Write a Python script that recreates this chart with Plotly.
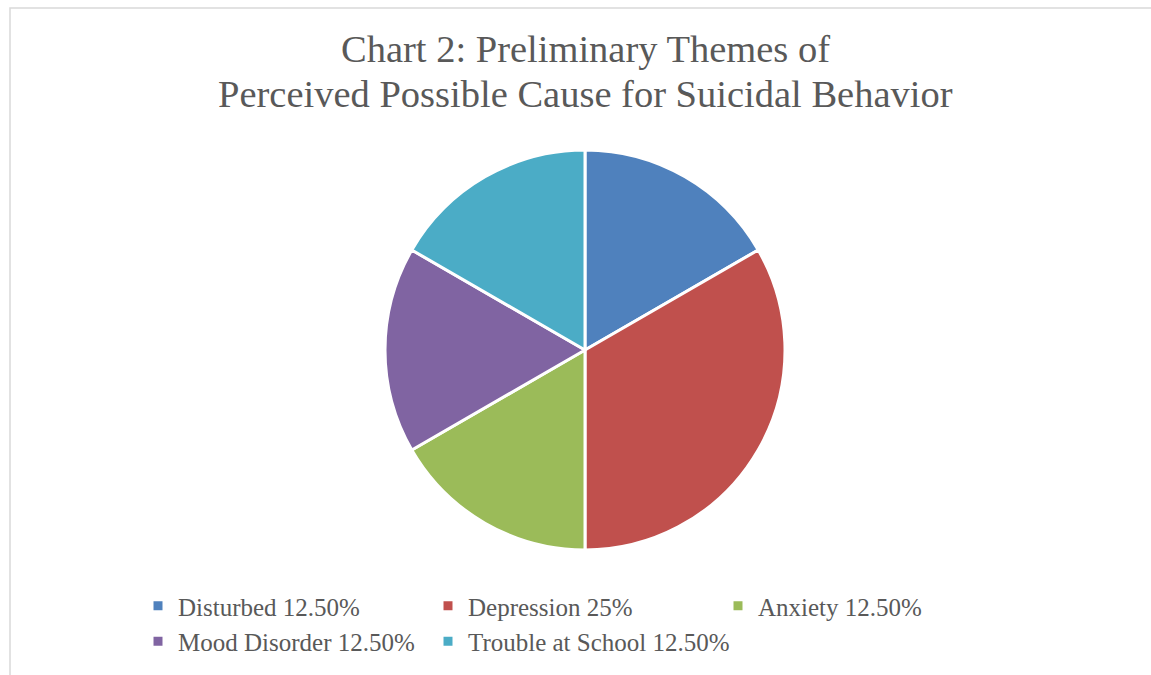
import plotly.graph_objects as go

W, H = 1151, 675
labels = ["Disturbed", "Depression", "Anxiety", "Mood Disorder", "Trouble at School"]
values = [12.5, 25, 12.5, 12.5, 12.5]
pct_text = ["12.50%", "25%", "12.50%", "12.50%", "12.50%"]
colors = ["#4F81BD", "#C0504D", "#9BBB59", "#8064A2", "#4BACC6"]
title_lines = ["Chart 2: Preliminary Themes of",
               "Perceived Possible Cause for Suicidal Behavior"]

legend_names = [f"{l} {p}" for l, p in zip(labels, pct_text)]

fig = go.Figure()
fig.add_trace(go.Pie(
    labels=legend_names,
    values=values,
    sort=False,
    direction="clockwise",
    rotation=0,
    textinfo="none",
    hoverinfo="label+value",
    marker=dict(colors=colors, line=dict(color="white", width=3)),
    domain=dict(x=[385 / W, 785 / W], y=[(H - 550) / H, (H - 150) / H]),
))

title_y = [49, 94]
annotations = [
    dict(text=t, x=585 / W, y=1 - yy / H, xref="paper", yref="paper",
         xanchor="center", yanchor="middle", showarrow=False,
         font=dict(size=38.5, family="Liberation Serif", color="#595959"))
    for t, yy in zip(title_lines, title_y)
]

fig.update_layout(
    width=W, height=H,
    margin=dict(l=0, r=0, t=0, b=0),
    paper_bgcolor="white",
    plot_bgcolor="white",
    font=dict(family="Liberation Serif", color="#595959"),
    annotations=annotations,
    showlegend=True,
    legend=dict(
        orientation="h",
        x=138 / W, xanchor="left",
        y=1 - 583 / H, yanchor="top",
        entrywidth=245, entrywidthmode="pixels",
        font=dict(size=25, family="Liberation Serif", color="#595959"),
        bgcolor="rgba(0,0,0,0)",
        traceorder="normal",
    ),
    shapes=[dict(
        type="rect", xref="paper", yref="paper",
        x0=10 / W, x1=1.1, y0=-0.1, y1=1 - 8 / H,
        line=dict(color="#D9D9D9", width=1.5),
        fillcolor="rgba(0,0,0,0)", layer="below",
    )],
)

fig.write_html("out.html")
